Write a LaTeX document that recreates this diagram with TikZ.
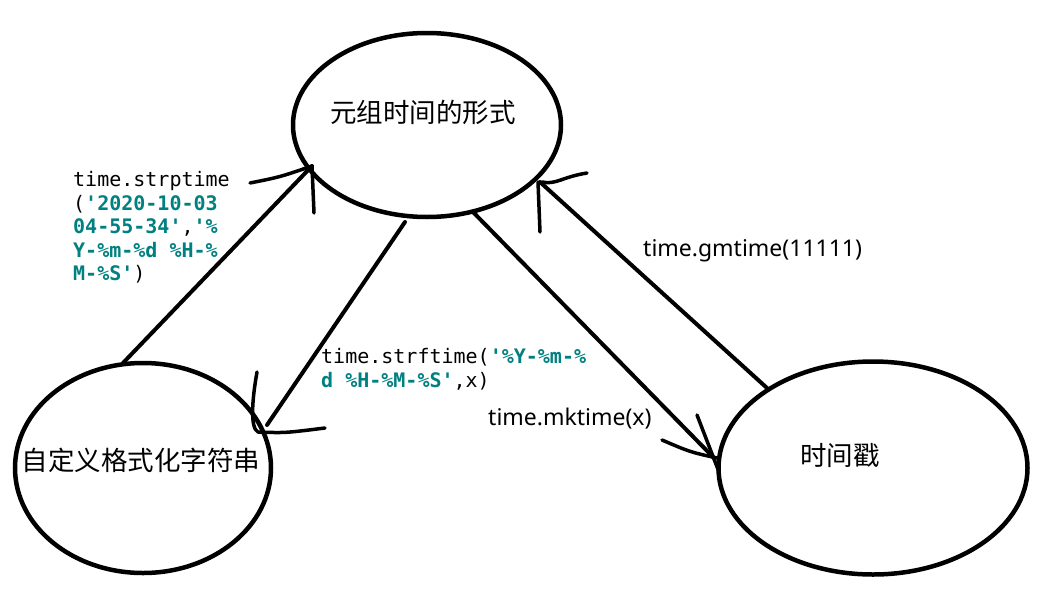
\documentclass[tikz,border=0pt]{standalone}
\usepackage{fontspec}
\setmonofont{DejaVu Sans Mono}
\newfontfamily\cjk{Noto Sans CJK SC}
\newfontfamily\labfont{Noto Sans}
\usetikzlibrary{shapes.geometric}
\definecolor{codeteal}{RGB}{0,128,128}
\tikzset{
  bubble/.style={draw=black, line width=4.5pt, shape=ellipse, inner sep=0pt},
  cjktext/.style={font=\cjk\fontsize{26.5}{30}\selectfont, inner sep=0pt},
  codeline/.style={font=\ttfamily\fontsize{20}{24}\selectfont, anchor=base west, inner sep=0pt},
  labtext/.style={font=\labfont\fontsize{23}{27}\selectfont, anchor=base west, inner sep=0pt},
  link/.style={line width=4pt, line cap=round, line join=round},
  tipstroke/.style={line width=3.5pt, line cap=round, line join=round},
}
\newcommand{\tl}[1]{\textcolor{codeteal}{\bfseries #1}}
\begin{document}
\begin{tikzpicture}[x=1pt, y=-1pt]
\useasboundingbox[fill=white] (0,0) rectangle (1044,608);

% ellipses
\node[bubble, minimum width=268pt, minimum height=184pt] (tuple) at (427,125) {};
\node[bubble, minimum width=256pt, minimum height=210pt] (fmt) at (143,468) {};
\node[bubble, minimum width=309pt, minimum height=213pt] (stamp) at (873,468) {};

% ellipse texts
\node[cjktext] (tupletxt) at (423,112) {元组时间的形式};
\node[cjktext] (fmttxt) at (141,460) {自定义格式化字符串};
\node[cjktext] (stamptxt) at (840,455) {时间戳};

% connector end points
\coordinate (a1s) at (123,363);
\coordinate (a1t) at (312,166);
\coordinate (a2s) at (405,222);
\coordinate (a2t) at (267,425);
\coordinate (a3s) at (473,212);
\coordinate (a3t) at (714,458);
\coordinate (a4s) at (767,388);
\coordinate (a4t) at (540,182);

% strptime: fmt -> tuple
\draw[link] (a1s) -- (a1t);
\draw[tipstroke] (250,183) .. controls (280,177) .. (a1t);
\draw[tipstroke] (a1t) -- (314,213);

% strftime: tuple -> fmt
\draw[link] (a2s) -- (a2t);
\draw[tipstroke] (257,372) .. controls (252,400) and (250,428) .. (258,432) .. controls (285,433) .. (325,428);

% mktime: tuple -> stamp
\draw[link] (a3s) -- (a3t);
\draw[tipstroke] (662,440) .. controls (690,452) .. (717,458);
\draw[tipstroke] (697,415) -- (719,472);

% gmtime: stamp -> tuple
\draw[link] (a4s) -- (a4t);
\draw[tipstroke] (540,232) -- (538,182);
\draw[tipstroke] (542,182) .. controls (556,185) and (562,177) .. (587,173);

% labels
\node[codeline] (sp1) at (73,186.5) {time.strptime};
\node[codeline] (sp2) at (73,210) {(\tl{'2020-10-03}};
\node[codeline] (sp3) at (73,233.5) {\tl{04-55-34'},\tl{'\%}};
\node[codeline] (sp4) at (73,257) {\tl{Y-\%m-\%d \%H-\%}};
\node[codeline] (sp5) at (73,280.5) {\tl{M-\%S'})};

\node[codeline] (sf1) at (321,363) {time.strftime(\tl{'\%Y-\%m-\%}};
\node[codeline] (sf2) at (321,387) {\tl{d \%H-\%M-\%S'},x)};

\node[labtext] (mk) at (488,425) {time.mktime(x)};
\node[labtext] (gm) at (643,256) {time.gmtime(11111)};
\end{tikzpicture}
\end{document}
